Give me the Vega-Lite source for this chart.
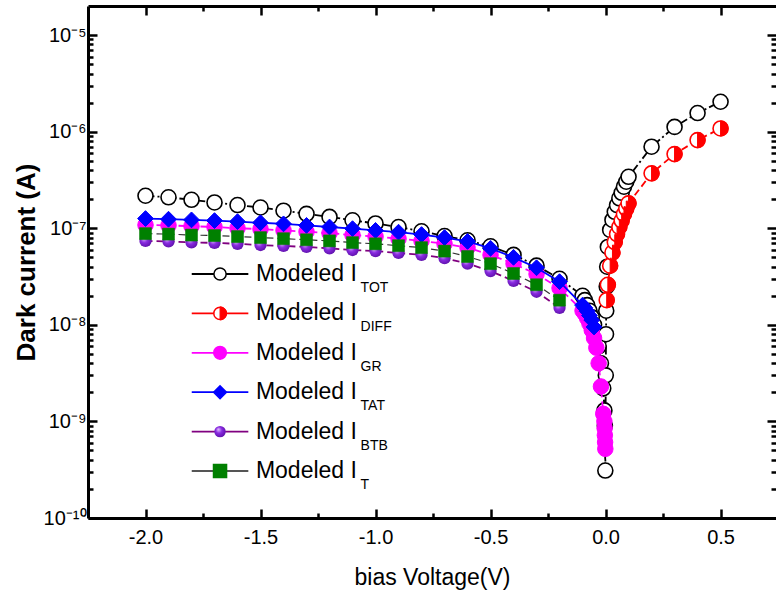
{
  "$schema": "https://vega.github.io/schema/vega-lite/v6.json",
  "autosize": {"type": "none"},
  "padding": {"left": 88, "top": 6, "right": 0, "bottom": 80},
  "width": 688,
  "height": 512,
  "background": "white",
  "config": {
    "view": {"stroke": null},
    "axis": {"domainColor": "black", "domainWidth": 3, "tickColor": "black", "tickWidth": 2.5, "labelFont": "Liberation Sans", "labelFontSize": 20, "labelColor": "black", "titleFont": "Liberation Sans", "titleColor": "black", "grid": false},
    "text": {"font": "Liberation Sans", "color": "black"}
  },
  "datasets": {
    "d": [
      {"s": "TOT", "V": -2.0, "I": 2.17e-7}, {"s": "TOT", "V": -1.9, "I": 2.09e-7}, {"s": "TOT", "V": -1.8, "I": 1.97e-7}, {"s": "TOT", "V": -1.7, "I": 1.85e-7}, {"s": "TOT", "V": -1.6, "I": 1.74e-7}, {"s": "TOT", "V": -1.5, "I": 1.64e-7}, {"s": "TOT", "V": -1.4, "I": 1.52e-7}, {"s": "TOT", "V": -1.3, "I": 1.41e-7}, {"s": "TOT", "V": -1.2, "I": 1.31e-7}, {"s": "TOT", "V": -1.1, "I": 1.21e-7}, {"s": "TOT", "V": -1.0, "I": 1.12e-7}, {"s": "TOT", "V": -0.9, "I": 1.03e-7}, {"s": "TOT", "V": -0.8, "I": 9.3e-8}, {"s": "TOT", "V": -0.7, "I": 8.3e-8}, {"s": "TOT", "V": -0.6, "I": 7.5e-8}, {"s": "TOT", "V": -0.5, "I": 6.5e-8}, {"s": "TOT", "V": -0.4, "I": 5.3e-8}, {"s": "TOT", "V": -0.3, "I": 4.1e-8}, {"s": "TOT", "V": -0.2, "I": 3.0e-8}, {"s": "TOT", "V": -0.1, "I": 2.0e-8},
      {"s": "TOT", "V": -0.09, "I": 1.8e-8}, {"s": "TOT", "V": -0.08, "I": 1.6e-8}, {"s": "TOT", "V": -0.07, "I": 1.4e-8}, {"s": "TOT", "V": -0.06, "I": 1.2e-8}, {"s": "TOT", "V": -0.05, "I": 1.0e-8}, {"s": "TOT", "V": -0.04, "I": 8e-9}, {"s": "TOT", "V": -0.03, "I": 6e-9}, {"s": "TOT", "V": -0.02, "I": 4e-9}, {"s": "TOT", "V": -0.01, "I": 2.2e-9}, {"s": "TOT", "V": -0.005, "I": 1.3e-9}, {"s": "TOT", "V": -0.003, "I": 9e-10}, {"s": "TOT", "V": -0.001, "I": 3.1e-10},
      {"s": "TOT", "V": 0.001, "I": 3e-9}, {"s": "TOT", "V": 0.002, "I": 8e-9}, {"s": "TOT", "V": 0.003, "I": 1.4e-8}, {"s": "TOT", "V": 0.005, "I": 2.5e-8}, {"s": "TOT", "V": 0.007, "I": 4e-8}, {"s": "TOT", "V": 0.01, "I": 6.4e-8}, {"s": "TOT", "V": 0.02, "I": 9.6e-8}, {"s": "TOT", "V": 0.03, "I": 1.22e-7}, {"s": "TOT", "V": 0.04, "I": 1.48e-7}, {"s": "TOT", "V": 0.05, "I": 1.74e-7}, {"s": "TOT", "V": 0.06, "I": 2.04e-7}, {"s": "TOT", "V": 0.07, "I": 2.33e-7}, {"s": "TOT", "V": 0.08, "I": 2.69e-7}, {"s": "TOT", "V": 0.09, "I": 3.03e-7}, {"s": "TOT", "V": 0.1, "I": 3.41e-7}, {"s": "TOT", "V": 0.2, "I": 6.98e-7}, {"s": "TOT", "V": 0.3, "I": 1.12e-6}, {"s": "TOT", "V": 0.4, "I": 1.56e-6}, {"s": "TOT", "V": 0.5, "I": 2.04e-6},
      {"s": "DIFF", "V": 0.005, "I": 1.8e-8}, {"s": "DIFF", "V": 0.01, "I": 2.6e-8}, {"s": "DIFF", "V": 0.02, "I": 4.1e-8}, {"s": "DIFF", "V": 0.03, "I": 5.6e-8}, {"s": "DIFF", "V": 0.04, "I": 7.2e-8}, {"s": "DIFF", "V": 0.05, "I": 8.7e-8}, {"s": "DIFF", "V": 0.06, "I": 1.03e-7}, {"s": "DIFF", "V": 0.07, "I": 1.2e-7}, {"s": "DIFF", "V": 0.08, "I": 1.4e-7}, {"s": "DIFF", "V": 0.09, "I": 1.6e-7}, {"s": "DIFF", "V": 0.1, "I": 1.81e-7}, {"s": "DIFF", "V": 0.2, "I": 3.7e-7}, {"s": "DIFF", "V": 0.3, "I": 5.86e-7}, {"s": "DIFF", "V": 0.4, "I": 8.18e-7}, {"s": "DIFF", "V": 0.5, "I": 1.08e-6},
      {"s": "GR", "V": -2.0, "I": 1.08e-7}, {"s": "GR", "V": -1.9, "I": 1.07e-7}, {"s": "GR", "V": -1.8, "I": 1.05e-7}, {"s": "GR", "V": -1.7, "I": 1.03e-7}, {"s": "GR", "V": -1.6, "I": 1.0e-7}, {"s": "GR", "V": -1.5, "I": 9.8e-8}, {"s": "GR", "V": -1.4, "I": 9.5e-8}, {"s": "GR", "V": -1.3, "I": 9.2e-8}, {"s": "GR", "V": -1.2, "I": 8.9e-8}, {"s": "GR", "V": -1.1, "I": 8.5e-8}, {"s": "GR", "V": -1.0, "I": 8.2e-8}, {"s": "GR", "V": -0.9, "I": 7.8e-8}, {"s": "GR", "V": -0.8, "I": 7.4e-8}, {"s": "GR", "V": -0.7, "I": 6.9e-8}, {"s": "GR", "V": -0.6, "I": 6.3e-8}, {"s": "GR", "V": -0.5, "I": 5.3e-8}, {"s": "GR", "V": -0.4, "I": 4.3e-8}, {"s": "GR", "V": -0.3, "I": 3.35e-8}, {"s": "GR", "V": -0.2, "I": 2.4e-8}, {"s": "GR", "V": -0.1, "I": 1.4e-8},
      {"s": "GR", "V": -0.09, "I": 1.3e-8}, {"s": "GR", "V": -0.08, "I": 1.17e-8}, {"s": "GR", "V": -0.07, "I": 1.03e-8}, {"s": "GR", "V": -0.06, "I": 8.8e-9}, {"s": "GR", "V": -0.05, "I": 7.3e-9}, {"s": "GR", "V": -0.04, "I": 5.8e-9}, {"s": "GR", "V": -0.03, "I": 4.0e-9}, {"s": "GR", "V": -0.02, "I": 2.3e-9}, {"s": "GR", "V": -0.01, "I": 1.2e-9}, {"s": "GR", "V": -0.005, "I": 1.0e-9}, {"s": "GR", "V": -0.004, "I": 8.5e-10}, {"s": "GR", "V": -0.003, "I": 7.2e-10}, {"s": "GR", "V": -0.002, "I": 6.1e-10}, {"s": "GR", "V": -0.001, "I": 5.2e-10},
      {"s": "TAT", "V": -2.0, "I": 1.26e-7}, {"s": "TAT", "V": -1.9, "I": 1.24e-7}, {"s": "TAT", "V": -1.8, "I": 1.22e-7}, {"s": "TAT", "V": -1.7, "I": 1.2e-7}, {"s": "TAT", "V": -1.6, "I": 1.17e-7}, {"s": "TAT", "V": -1.5, "I": 1.14e-7}, {"s": "TAT", "V": -1.4, "I": 1.11e-7}, {"s": "TAT", "V": -1.3, "I": 1.07e-7}, {"s": "TAT", "V": -1.2, "I": 1.03e-7}, {"s": "TAT", "V": -1.1, "I": 9.9e-8}, {"s": "TAT", "V": -1.0, "I": 9.5e-8}, {"s": "TAT", "V": -0.9, "I": 9.1e-8}, {"s": "TAT", "V": -0.8, "I": 8.6e-8}, {"s": "TAT", "V": -0.7, "I": 8.0e-8}, {"s": "TAT", "V": -0.6, "I": 7.3e-8}, {"s": "TAT", "V": -0.5, "I": 6.2e-8}, {"s": "TAT", "V": -0.4, "I": 5.0e-8}, {"s": "TAT", "V": -0.3, "I": 3.9e-8}, {"s": "TAT", "V": -0.2, "I": 2.8e-8}, {"s": "TAT", "V": -0.1, "I": 1.6e-8}, {"s": "TAT", "V": -0.09, "I": 1.5e-8}, {"s": "TAT", "V": -0.08, "I": 1.38e-8}, {"s": "TAT", "V": -0.07, "I": 1.25e-8}, {"s": "TAT", "V": -0.06, "I": 1.12e-8}, {"s": "TAT", "V": -0.05, "I": 9.5e-9},
      {"s": "BTB", "V": -2.0, "I": 7.4e-8}, {"s": "BTB", "V": -1.9, "I": 7.3e-8}, {"s": "BTB", "V": -1.8, "I": 7.15e-8}, {"s": "BTB", "V": -1.7, "I": 7.05e-8}, {"s": "BTB", "V": -1.6, "I": 6.9e-8}, {"s": "BTB", "V": -1.5, "I": 6.7e-8}, {"s": "BTB", "V": -1.4, "I": 6.55e-8}, {"s": "BTB", "V": -1.3, "I": 6.4e-8}, {"s": "BTB", "V": -1.2, "I": 6.2e-8}, {"s": "BTB", "V": -1.1, "I": 5.95e-8}, {"s": "BTB", "V": -1.0, "I": 5.8e-8}, {"s": "BTB", "V": -0.9, "I": 5.55e-8}, {"s": "BTB", "V": -0.8, "I": 5.3e-8}, {"s": "BTB", "V": -0.7, "I": 4.9e-8}, {"s": "BTB", "V": -0.6, "I": 4.3e-8}, {"s": "BTB", "V": -0.5, "I": 3.6e-8}, {"s": "BTB", "V": -0.4, "I": 2.85e-8}, {"s": "BTB", "V": -0.3, "I": 2.2e-8}, {"s": "BTB", "V": -0.2, "I": 1.5e-8},
      {"s": "T", "V": -2.0, "I": 8.8e-8}, {"s": "T", "V": -1.9, "I": 8.7e-8}, {"s": "T", "V": -1.8, "I": 8.5e-8}, {"s": "T", "V": -1.7, "I": 8.4e-8}, {"s": "T", "V": -1.6, "I": 8.2e-8}, {"s": "T", "V": -1.5, "I": 8.0e-8}, {"s": "T", "V": -1.4, "I": 7.8e-8}, {"s": "T", "V": -1.3, "I": 7.6e-8}, {"s": "T", "V": -1.2, "I": 7.4e-8}, {"s": "T", "V": -1.1, "I": 7.1e-8}, {"s": "T", "V": -1.0, "I": 6.9e-8}, {"s": "T", "V": -0.9, "I": 6.6e-8}, {"s": "T", "V": -0.8, "I": 6.3e-8}, {"s": "T", "V": -0.7, "I": 5.8e-8}, {"s": "T", "V": -0.6, "I": 5.1e-8}, {"s": "T", "V": -0.5, "I": 4.3e-8}, {"s": "T", "V": -0.4, "I": 3.4e-8}, {"s": "T", "V": -0.3, "I": 2.6e-8}, {"s": "T", "V": -0.2, "I": 1.8e-8}
    ]
  },
  "resolve": {"scale": {"y": "independent"}, "axis": {"x": "independent", "y": "independent"}},
  "layer": [
    {
      "data": {"name": "d"},
      "encoding": {
        "x": {"field": "V", "type": "quantitative", "scale": {"domain": [-2.25, 0.741], "nice": false, "zero": false},
          "axis": {"orient": "bottom", "title": "bias Voltage(V)", "titleFontSize": 23, "titleFontWeight": "normal", "titlePadding": 19,
            "values": [-2, -1.75, -1.5, -1.25, -1, -0.75, -0.5, -0.25, 0, 0.25, 0.5],
            "labelExpr": "datum.value % 0.5 == 0 ? replace(format(datum.value, '.1f'), '\u2212', '-') : ''",
            "tickSize": {"condition": {"test": "datum.value % 0.5 != 0", "value": -5}, "value": -9},
            "labelPadding": 18}},
        "y": {"field": "I", "type": "quantitative", "scale": {"type": "log", "domain": [1e-10, 2e-5], "nice": false},
          "axis": {"orient": "left", "title": "Dark current (A)", "titleFontSize": 26, "titleFontWeight": "bold", "titlePadding": 4,
            "values": [1e-10, 2e-10, 3e-10, 4e-10, 5e-10, 6e-10, 7e-10, 8e-10, 9e-10, 1e-9, 2e-9, 3e-9, 4e-9, 5e-9, 6e-9, 7e-9, 8e-9, 9e-9, 1e-8, 2e-8, 3e-8, 4e-8, 5e-8, 6e-8, 7e-8, 8e-8, 9e-8, 1e-7, 2e-7, 3e-7, 4e-7, 5e-7, 6e-7, 7e-7, 8e-7, 9e-7, 1e-6, 2e-6, 3e-6, 4e-6, 5e-6, 6e-6, 7e-6, 8e-6, 9e-6, 1e-5],
            "labelExpr": "datum.value == 1e-10 ? '10\u207b\u00b9\u2070' : datum.value == 1e-9 ? '10\u207b\u2079' : datum.value == 1e-8 ? '10\u207b\u2078' : datum.value == 1e-7 ? '10\u207b\u2077' : datum.value == 1e-6 ? '10\u207b\u2076' : datum.value == 1e-5 ? '10\u207b\u2075' : ''",
            "tickSize": {"condition": {"test": "abs(log(datum.value)/LN10 - round(log(datum.value)/LN10)) > 0.001", "value": -5}, "value": -9},
            "labelPadding": 11}}
      },
      "layer": [
        {"transform": [{"filter": "datum.s == 'TOT'"}], "mark": {"type": "line", "color": "black", "strokeWidth": 1.8, "strokeDash": [9, 3, 2, 3]}},
        {"transform": [{"filter": "datum.s == 'TOT'"}], "mark": {"type": "point", "shape": "circle", "size": 225, "filled": true, "fill": "white", "stroke": "black", "strokeWidth": 1.6, "opacity": 1}},
        {"transform": [{"filter": "datum.s == 'DIFF'"}], "mark": {"type": "line", "color": "red", "strokeWidth": 1.8, "strokeDash": [7, 4]}},
        {"transform": [{"filter": "datum.s == 'DIFF'"}], "mark": {"type": "point", "shape": "circle", "size": 225, "filled": true, "fill": "white", "stroke": "red", "strokeWidth": 1.6, "opacity": 1}},
        {"transform": [{"filter": "datum.s == 'DIFF'"}], "mark": {"type": "point", "shape": "M0,-1A1,1,0,0,1,0,1Z", "size": 225, "filled": true, "fill": "red", "stroke": "red", "strokeWidth": 1, "opacity": 1}},
        {"transform": [{"filter": "datum.s == 'GR'"}], "mark": {"type": "line", "color": "#ff00ff", "strokeWidth": 1.8, "strokeDash": [7, 4]}},
        {"transform": [{"filter": "datum.s == 'GR'"}], "mark": {"type": "point", "shape": "circle", "size": 240, "filled": true, "fill": "#ff00ff", "stroke": "#ff00ff", "strokeWidth": 1, "opacity": 1}},
        {"transform": [{"filter": "datum.s == 'TAT'"}], "mark": {"type": "line", "color": "blue", "strokeWidth": 1.8}},
        {"transform": [{"filter": "datum.s == 'TAT'"}], "mark": {"type": "point", "shape": "diamond", "size": 250, "filled": true, "fill": "blue", "stroke": "blue", "strokeWidth": 1, "opacity": 1}},
        {"transform": [{"filter": "datum.s == 'BTB'"}], "mark": {"type": "line", "color": "#800080", "strokeWidth": 1.8, "strokeDash": [7, 4]}},
        {"transform": [{"filter": "datum.s == 'BTB'"}], "mark": {"type": "point", "shape": "circle", "size": 150, "filled": true, "opacity": 1, "strokeWidth": 0, "fill": {"gradient": "radial", "x1": 0.35, "y1": 0.3, "r1": 0, "x2": 0.45, "y2": 0.45, "r2": 0.6, "stops": [{"offset": 0, "color": "#e6c8ff"}, {"offset": 0.45, "color": "#8a2be2"}, {"offset": 1, "color": "#5c10a8"}]}}},
        {"transform": [{"filter": "datum.s == 'T'"}], "mark": {"type": "line", "color": "#333333", "strokeWidth": 1.2, "strokeDash": [7, 4]}},
        {"transform": [{"filter": "datum.s == 'T'"}], "mark": {"type": "point", "shape": "square", "size": 144, "filled": true, "fill": "#008000", "stroke": "#008000", "strokeWidth": 0.5, "opacity": 1}},
        {"data": {"values": [{"label": "T= 300 K"}]}, "mark": {"type": "text", "align": "left", "baseline": "middle", "fontSize": 23},
          "encoding": {"x": {"datum": -1.611}, "y": {"datum": 9.33e-6}, "text": {"field": "label"}}}
      ]
    },
    {
      "data": {"name": "d"},
      "transform": [{"filter": "datum.s == 'TOT'"}],
      "mark": {"type": "point", "opacity": 0},
      "encoding": {
        "x": {"field": "V", "type": "quantitative",
          "axis": {"orient": "top", "title": null, "labels": false, "domain": true,
            "values": [-2, -1.75, -1.5, -1.25, -1, -0.75, -0.5, -0.25, 0, 0.25, 0.5],
            "tickSize": {"condition": {"test": "datum.value % 0.5 != 0", "value": -5}, "value": -9}}},
        "y": {"field": "I", "type": "quantitative", "scale": {"type": "log", "domain": [1e-10, 2e-5], "nice": false},
          "axis": {"orient": "right", "title": null, "labels": false, "domain": false,
            "values": [1e-10, 2e-10, 3e-10, 4e-10, 5e-10, 6e-10, 7e-10, 8e-10, 9e-10, 1e-9, 2e-9, 3e-9, 4e-9, 5e-9, 6e-9, 7e-9, 8e-9, 9e-9, 1e-8, 2e-8, 3e-8, 4e-8, 5e-8, 6e-8, 7e-8, 8e-8, 9e-8, 1e-7, 2e-7, 3e-7, 4e-7, 5e-7, 6e-7, 7e-7, 8e-7, 9e-7, 1e-6, 2e-6, 3e-6, 4e-6, 5e-6, 6e-6, 7e-6, 8e-6, 9e-6, 1e-5],
            "tickSize": {"condition": {"test": "abs(log(datum.value)/LN10 - round(log(datum.value)/LN10)) > 0.001", "value": -5}, "value": -9}}}
      }
    },
    {
      "data": {"values": [{"s": "TOT", "sub": "TOT"}, {"s": "DIFF", "sub": "DIFF"}, {"s": "GR", "sub": "GR"}, {"s": "TAT", "sub": "TAT"}, {"s": "BTB", "sub": "BTB"}, {"s": "T", "sub": "T"}]},
      "encoding": {
        "y": {"field": "s", "type": "nominal", "scale": {"type": "point", "domain": ["TOT", "DIFF", "GR", "TAT", "BTB", "T"], "range": [268, 465], "padding": 0}, "axis": null}
      },
      "layer": [
        {"mark": {"type": "rule", "strokeWidth": 1.8},
          "encoding": {"x": {"datum": -1.799, "axis": null}, "x2": {"datum": -1.553},
            "color": {"field": "s", "type": "nominal", "legend": null, "scale": {"domain": ["TOT", "DIFF", "GR", "TAT", "BTB", "T"], "range": ["black", "red", "#ff00ff", "blue", "#800080", "#555555"]}}}},
        {"transform": [{"filter": "datum.s != 'BTB'"}],
          "mark": {"type": "point", "filled": true, "opacity": 1, "strokeWidth": 1.5},
          "encoding": {"x": {"datum": -1.676, "axis": null},
            "shape": {"field": "s", "type": "nominal", "legend": null, "scale": {"domain": ["TOT", "DIFF", "GR", "TAT", "T"], "range": ["circle", "circle", "circle", "diamond", "square"]}},
            "fill": {"field": "s", "type": "nominal", "legend": null, "scale": {"domain": ["TOT", "DIFF", "GR", "TAT", "T"], "range": ["white", "white", "#ff00ff", "blue", "#008000"]}},
            "stroke": {"field": "s", "type": "nominal", "legend": null, "scale": {"domain": ["TOT", "DIFF", "GR", "TAT", "T"], "range": ["black", "red", "#ff00ff", "blue", "#008000"]}},
            "size": {"field": "s", "type": "nominal", "legend": null, "scale": {"domain": ["TOT", "DIFF", "GR", "TAT", "T"], "range": [150, 170, 170, 210, 110]}}}},
        {"transform": [{"filter": "datum.s == 'DIFF'"}],
          "mark": {"type": "point", "shape": "M0,-1A1,1,0,0,1,0,1Z", "size": 170, "filled": true, "fill": "red", "stroke": "red", "strokeWidth": 1, "opacity": 1},
          "encoding": {"x": {"datum": -1.676, "axis": null}}},
        {"transform": [{"filter": "datum.s == 'BTB'"}],
          "mark": {"type": "point", "shape": "circle", "size": 130, "filled": true, "opacity": 1, "strokeWidth": 0, "fill": {"gradient": "radial", "x1": 0.35, "y1": 0.3, "r1": 0, "x2": 0.45, "y2": 0.45, "r2": 0.6, "stops": [{"offset": 0, "color": "#e6c8ff"}, {"offset": 0.45, "color": "#8a2be2"}, {"offset": 1, "color": "#5c10a8"}]}},
          "encoding": {"x": {"datum": -1.676, "axis": null}}},
        {"mark": {"type": "text", "align": "left", "baseline": "middle", "fontSize": 23},
          "encoding": {"x": {"datum": -1.52, "axis": null}, "text": {"value": "Modeled I"}}},
        {"mark": {"type": "text", "align": "left", "baseline": "middle", "fontSize": 14, "dy": 14},
          "encoding": {"x": {"datum": -1.065, "axis": null}, "text": {"field": "sub"}}}
      ]
    }
  ]
}
